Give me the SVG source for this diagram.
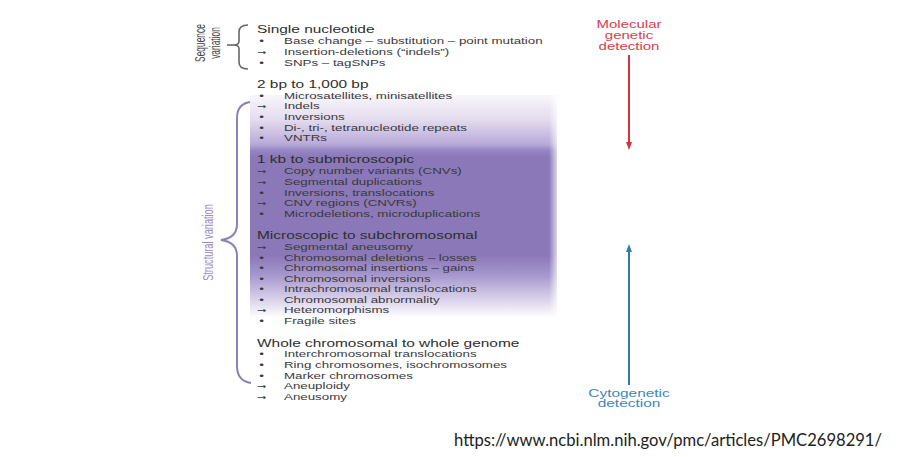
<svg xmlns="http://www.w3.org/2000/svg" width="908" height="457" viewBox="0 0 908 457">
<style>
  text { font-family: "Liberation Sans", Arial, sans-serif; }
  .h { font-size: 10.3px; fill: #2e2e2e; }
  .i { font-size: 8.9px; fill: #3a3a3a; }
  .b { font-size: 8.9px; fill: #3a3a3a; }
  .a { font-family: "DejaVu Sans", sans-serif; font-size: 7.5px; fill: #3a3a3a; }
  .side { font-size: 8.4px; fill: #444; }
  .sv { font-size: 9.2px; fill: #9a8cc6; }
  .red { font-size: 10px; fill: #d8404b; }
  .blue { font-size: 10.3px; fill: #3c87b9; }
  .url { font-family: Lato, "Open Sans", "Liberation Sans", sans-serif; font-size: 16.5px; fill: #222; }
</style>
<defs>
  <linearGradient id="vg" x1="0" y1="95" x2="0" y2="318" gradientUnits="userSpaceOnUse">
    <stop offset="0" stop-color="#f8f6fb"/>
    <stop offset="0.11" stop-color="#e4dcef"/>
    <stop offset="0.22" stop-color="#b8aad8"/>
    <stop offset="0.25" stop-color="#9584c2"/>
    <stop offset="0.28" stop-color="#8a78b8"/>
    <stop offset="0.72" stop-color="#8a78b8"/>
    <stop offset="0.81" stop-color="#a797ce"/>
    <stop offset="0.90" stop-color="#d2c9e6"/>
    <stop offset="1" stop-color="#ffffff"/>
  </linearGradient>
  <linearGradient id="hg" x1="549" y1="0" x2="557" y2="0" gradientUnits="userSpaceOnUse">
    <stop offset="0" stop-color="#ffffff" stop-opacity="0"/>
    <stop offset="1" stop-color="#ffffff" stop-opacity="0.7"/>
  </linearGradient>
  <marker id="ahR" markerWidth="8" markerHeight="8" refX="4" refY="4" orient="auto" markerUnits="userSpaceOnUse">
    <path d="M0,1 L8,4 L0,7 Z" fill="#d8303c"/>
  </marker>
  <marker id="ahB" markerWidth="8" markerHeight="8" refX="4" refY="4" orient="auto" markerUnits="userSpaceOnUse">
    <path d="M0,1 L8,4 L0,7 Z" fill="#2f7db0"/>
  </marker>
</defs>
<rect width="908" height="457" fill="#ffffff"/>

<g id="band">
  <rect x="250" y="95" width="307" height="223" fill="url(#vg)"/>
  <rect x="549" y="95" width="8" height="223" fill="url(#hg)"/>
</g>

<g id="sequence-variation">
  <text class="side" text-anchor="middle" transform="translate(205,43) scale(1.75,1) rotate(-90)">Sequence</text>
  <text class="side" text-anchor="middle" transform="translate(220,43) scale(1.75,1) rotate(-90)">variation</text>
  <path d="M248,25 Q239,25 239,32 L239,41 Q239,45 234,45 Q239,45 239,49 L239,62 Q239,69 248,69" fill="none" stroke="#666" stroke-width="1.6"/>
  <line x1="227" y1="45" x2="234" y2="45" stroke="#666" stroke-width="1.6"/>
</g>

<g id="structural-variation">
  <text class="sv" text-anchor="middle" transform="translate(213,242.5) scale(1.5,1) rotate(-90)">Structural variation</text>
  <path d="M250,102 Q237,104 237,118 L237,224 Q237,238 221,240 Q237,242 237,256 L237,366 Q237,381 251,383" fill="none" stroke="#8c80b8" stroke-width="2"/>
</g>

<g id="list" transform="translate(257,0) scale(1.5,1)">
  <g id="single-nucleotide">
    <text class="h" x="0" y="33">Single nucleotide</text>
    <text class="b" x="1.5" y="44.5">•</text><text class="i" x="18" y="44.5">Base change – substitution – point mutation</text>
    <text class="a" x="0" y="55">→</text><text class="i" x="18" y="55">Insertion-deletions (“indels”)</text>
    <text class="b" x="1.5" y="66">•</text><text class="i" x="18" y="66">SNPs – tagSNPs</text>
  </g>
  <g id="bp2-1000">
    <text class="h" x="0" y="88">2 bp to 1,000 bp</text>
    <text class="b" x="1.5" y="99">•</text><text class="i" x="18" y="99">Microsatellites, minisatellites</text>
    <text class="a" x="0" y="109.5">→</text><text class="i" x="18" y="109.5">Indels</text>
    <text class="b" x="1.5" y="120">•</text><text class="i" x="18" y="120">Inversions</text>
    <text class="b" x="1.5" y="131">•</text><text class="i" x="18" y="131">Di-, tri-, tetranucleotide repeats</text>
    <text class="b" x="1.5" y="141.5">•</text><text class="i" x="18" y="141.5">VNTRs</text>
  </g>
  <g id="kb-submicroscopic">
    <text class="h" x="0" y="163">1 kb to submicroscopic</text>
    <text class="a" x="0" y="174.5">→</text><text class="i" x="18" y="174.5">Copy number variants (CNVs)</text>
    <text class="a" x="0" y="185">→</text><text class="i" x="18" y="185">Segmental duplications</text>
    <text class="b" x="1.5" y="196">•</text><text class="i" x="18" y="196">Inversions, translocations</text>
    <text class="a" x="0" y="206.5">→</text><text class="i" x="18" y="206.5">CNV regions (CNVRs)</text>
    <text class="b" x="1.5" y="217">•</text><text class="i" x="18" y="217">Microdeletions, microduplications</text>
  </g>
  <g id="microscopic">
    <text class="h" x="0" y="239.5">Microscopic to subchromosomal</text>
    <text class="a" x="0" y="250.5">→</text><text class="i" x="18" y="250.5">Segmental aneusomy</text>
    <text class="b" x="1.5" y="261">•</text><text class="i" x="18" y="261">Chromosomal deletions – losses</text>
    <text class="b" x="1.5" y="271.5">•</text><text class="i" x="18" y="271.5">Chromosomal insertions – gains</text>
    <text class="b" x="1.5" y="282">•</text><text class="i" x="18" y="282">Chromosomal inversions</text>
    <text class="b" x="1.5" y="292.5">•</text><text class="i" x="18" y="292.5">Intrachromosomal translocations</text>
    <text class="b" x="1.5" y="303">•</text><text class="i" x="18" y="303">Chromosomal abnormality</text>
    <text class="a" x="0" y="313.5">→</text><text class="i" x="18" y="313.5">Heteromorphisms</text>
    <text class="b" x="1.5" y="324.5">•</text><text class="i" x="18" y="324.5">Fragile sites</text>
  </g>
  <g id="whole-genome">
    <text class="h" x="0" y="347">Whole chromosomal to whole genome</text>
    <text class="b" x="1.5" y="357.5">•</text><text class="i" x="18" y="357.5">Interchromosomal translocations</text>
    <text class="b" x="1.5" y="368">•</text><text class="i" x="18" y="368">Ring chromosomes, isochromosomes</text>
    <text class="b" x="1.5" y="379">•</text><text class="i" x="18" y="379">Marker chromosomes</text>
    <text class="a" x="0" y="389.5">→</text><text class="i" x="18" y="389.5">Aneuploidy</text>
    <text class="a" x="0" y="400">→</text><text class="i" x="18" y="400">Aneusomy</text>
  </g>
</g>

<g id="molecular-detection" transform="translate(629,0) scale(1.5,1)">
  <text class="red" text-anchor="middle" x="0" y="28.5">Molecular</text>
  <text class="red" text-anchor="middle" x="0" y="39.5">genetic</text>
  <text class="red" text-anchor="middle" x="0" y="50.5">detection</text>
</g>
<g id="cytogenetic-detection" transform="translate(629,0) scale(1.5,1)">
  <text class="blue" text-anchor="middle" x="0" y="397">Cytogenetic</text>
  <text class="blue" text-anchor="middle" x="0" y="407.5">detection</text>
</g>

<g id="connectors">
  <line x1="629" y1="55" x2="629" y2="146" stroke="#d8303c" stroke-width="2" marker-end="url(#ahR)"/>
  <line x1="629" y1="385" x2="629" y2="248" stroke="#2f7db0" stroke-width="2" marker-end="url(#ahB)"/>
</g>

<text class="url" x="454" y="446" textLength="428" lengthAdjust="spacingAndGlyphs">https://www.ncbi.nlm.nih.gov/pmc/articles/PMC2698291/</text>
</svg>
